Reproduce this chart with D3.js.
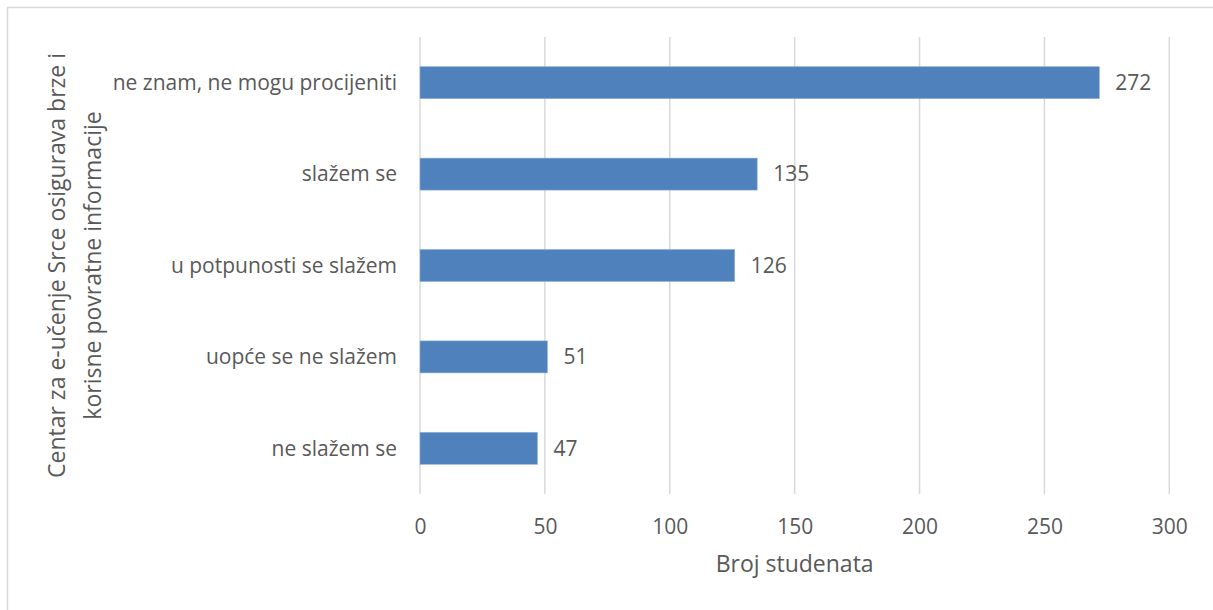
<!DOCTYPE html>
<html>
<head>
<meta charset="utf-8">
<script src="https://cdn.jsdelivr.net/npm/d3@7"></script>
<style>
  html, body { margin: 0; padding: 0; background: #fff; }
  svg { display: block; }
  text { font-family: "Open Sans", sans-serif; fill: #595959; }
</style>
</head>
<body>
<svg id="chart" width="1213" height="610"></svg>
<script>
const categories = ["ne znam, ne mogu procijeniti", "slažem se", "u potpunosti se slažem", "uopće se ne slažem", "ne slažem se"];
const values = [272, 135, 126, 51, 47];
const xTicks = [0, 50, 100, 150, 200, 250, 300];
const xTitle = "Broj studenata";
const yTitleLines = ["Centar za e-učenje Srce osigurava brze i", "korisne povratne informacije"];

const W = 1213, H = 610;
const FONT = "'Open Sans', sans-serif";
const margin = { left: 420, right: W - 1169.3, top: 37, bottom: H - 494 };
const svg = d3.select("#chart");

// outer frame (left & top edges visible)
svg.append("rect").attr("x", 7.5).attr("y", 7.5).attr("width", W + 20).attr("height", H + 20)
  .attr("fill", "none").attr("stroke", "#d9d9d9").attr("stroke-width", 1.5);

const x = d3.scaleLinear().domain([0, 300]).range([margin.left, W - margin.right]);
const y = d3.scaleBand().domain(categories).range([margin.top, H - margin.bottom]).paddingInner(0.65).paddingOuter(0.325);

// gridlines
svg.append("g").selectAll("line").data(xTicks).join("line")
  .attr("x1", d => x(d)).attr("x2", d => x(d))
  .attr("y1", margin.top).attr("y2", H - margin.bottom)
  .attr("stroke", "#d9d9d9").attr("stroke-width", 1.5);

// bars
svg.append("g").selectAll("rect").data(values).join("rect")
  .attr("x", x(0)).attr("y", (d, i) => y(categories[i]))
  .attr("width", d => x(d) - x(0)).attr("height", y.bandwidth())
  .attr("fill", "#4f81bd").attr("stroke", "#8eb0dc").attr("stroke-width", 0.6);

// value labels
svg.append("g").selectAll("text").data(values).join("text")
  .attr("x", d => x(d) + 16).attr("y", (d, i) => y(categories[i]) + y.bandwidth() / 2)
  .attr("dy", "0.35em").attr("font-size", 21).text(d => d);

// x axis tick labels
const xAxis = d3.axisBottom(x).tickValues(xTicks).tickSize(0).tickPadding(0);
const gx = svg.append("g").attr("transform", `translate(0,${H - margin.bottom})`).call(xAxis);
gx.select(".domain").remove();
gx.selectAll("text").attr("font-size", 21).attr("font-family", FONT)
  .attr("fill", "#595959").attr("y", 33).attr("dy", "0.35em");

// y axis category labels
const yAxis = d3.axisLeft(y).tickSize(0).tickPadding(0);
const gy = svg.append("g").attr("transform", `translate(397,0)`).call(yAxis);
gy.select(".domain").remove();
gy.selectAll("text").attr("font-size", 21).attr("font-family", FONT)
  .attr("fill", "#595959").attr("text-anchor", "end").attr("dy", "0.35em");

// axis titles
svg.append("text").attr("x", (x(0) + x(300)) / 2).attr("y", 564).attr("dy", "0.35em")
  .attr("text-anchor", "middle").attr("font-size", 23).text(xTitle);

const yt = svg.append("text").attr("text-anchor", "middle").attr("font-size", 23)
  .attr("transform", `translate(0,${(margin.top + H - margin.bottom) / 2}) rotate(-90)`);
yTitleLines.forEach((l, i) => {
  yt.append("tspan").attr("x", 0).attr("y", 57 + i * 36).attr("dy", "0.35em").text(l);
});
</script>
</body>
</html>
